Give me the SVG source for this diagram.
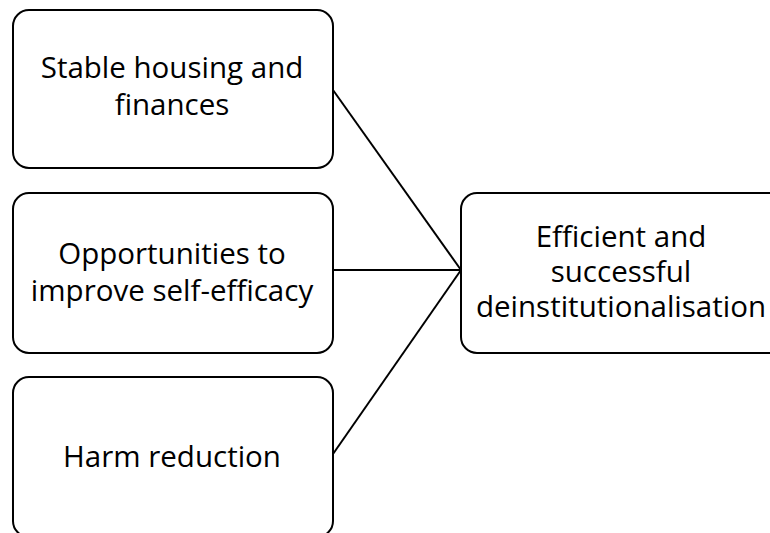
<svg xmlns="http://www.w3.org/2000/svg" width="770" height="533" viewBox="0 0 770 533">
  <style>
    .box { fill: #ffffff; stroke: #000000; stroke-width: 2; }
    .label { font-family: "Open Sans", "Liberation Sans", sans-serif; font-size: 29.5px; fill: #000000; text-anchor: middle; }
    .link { stroke: #000000; stroke-width: 2; fill: none; }
  </style>
  <rect width="770" height="533" fill="#ffffff"/>
  <g id="connectors">
    <line class="link" x1="333" y1="90" x2="461" y2="270"/>
    <line class="link" x1="333" y1="270" x2="461" y2="270"/>
    <line class="link" x1="333" y1="454" x2="461" y2="270"/>
  </g>
  <g id="stable-housing">
    <rect class="box" x="13" y="10" width="320" height="158" rx="16"/>
    <text class="label" x="172" y="78">Stable housing and</text>
    <text class="label" x="172" y="115">finances</text>
  </g>
  <g id="self-efficacy">
    <rect class="box" x="13" y="193" width="320" height="160" rx="16"/>
    <text class="label" x="172" y="264">Opportunities to</text>
    <text class="label" x="172" y="301">improve self-efficacy</text>
  </g>
  <g id="harm-reduction">
    <rect class="box" x="13" y="377" width="320" height="160" rx="16"/>
    <text class="label" x="172" y="467">Harm reduction</text>
  </g>
  <g id="deinstitutionalisation">
    <rect class="box" x="461" y="193" width="330" height="160" rx="16"/>
    <text class="label" x="621" y="247">Efficient and</text>
    <text class="label" x="621" y="282">successful</text>
    <text class="label" x="621" y="317">deinstitutionalisation</text>
  </g>
</svg>
